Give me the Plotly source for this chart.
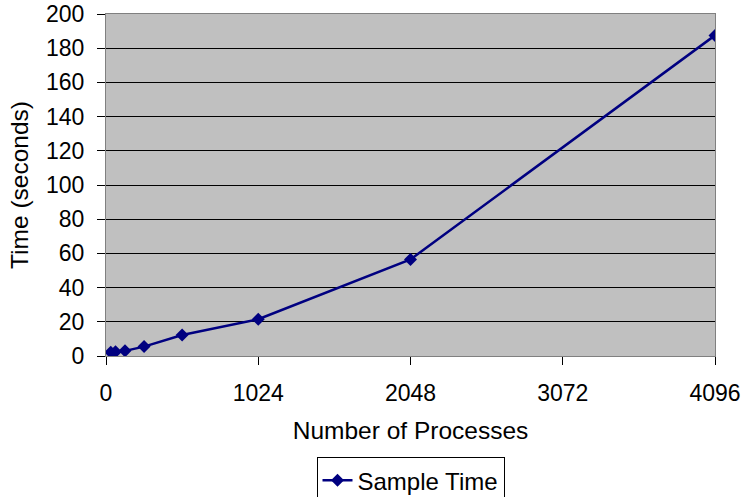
import plotly.graph_objects as go

processes = [32, 64, 128, 256, 512, 1024, 2048, 4096]
sample_time = [2.2, 2.5, 3.0, 5.5, 12.3, 21.5, 56.5, 187.5]
x_ticks = [0, 1024, 2048, 3072, 4096]
y_ticks = list(range(0, 201, 20))

fig = go.Figure()
fig.add_trace(go.Scatter(
    x=processes, y=sample_time, mode="lines+markers", name="Sample Time",
    line=dict(color="#000080", width=2.5),
    marker=dict(symbol="diamond", size=10, color="#000080"),
))

fam = "Liberation Sans, Arial, sans-serif"
fig.update_layout(
    width=744, height=497,
    margin=dict(l=106, r=29, t=14, b=141),
    paper_bgcolor="white", plot_bgcolor="#C0C0C0",
    font=dict(family=fam, size=23, color="black"),
    showlegend=True,
    legend=dict(orientation="h", x=0.5, xanchor="center",
                yref="container", y=0.08, yanchor="top",
                bordercolor="black", borderwidth=1, bgcolor="white",
                font=dict(size=24)),
    xaxis=dict(range=[0, 4096], tickvals=x_ticks, ticktext=[str(v) for v in x_ticks],
               automargin=False, tickfont=dict(size=23), ticklabelstandoff=8,
               showgrid=False, zeroline=False, showline=True, linecolor="#808080",
               mirror=True, ticks="outside", ticklen=8, tickcolor="black",
               title=dict(text="Number of Processes", standoff=17, font=dict(size=24.5))),
    yaxis=dict(range=[0, 200], tickvals=y_ticks, showgrid=True, gridcolor="black",
               automargin=False, tickfont=dict(size=23), ticklabelstandoff=8,
               gridwidth=1, zeroline=False, showline=True, linecolor="#808080",
               mirror=True, ticks="outside", ticklen=8, tickcolor="black",
               title=dict(text="Time (seconds)", standoff=10, font=dict(size=24.5))),
)
fig.write_html("out.html", config={"displayModeBar": False},
               post_script="document.body.style.margin='0';")
